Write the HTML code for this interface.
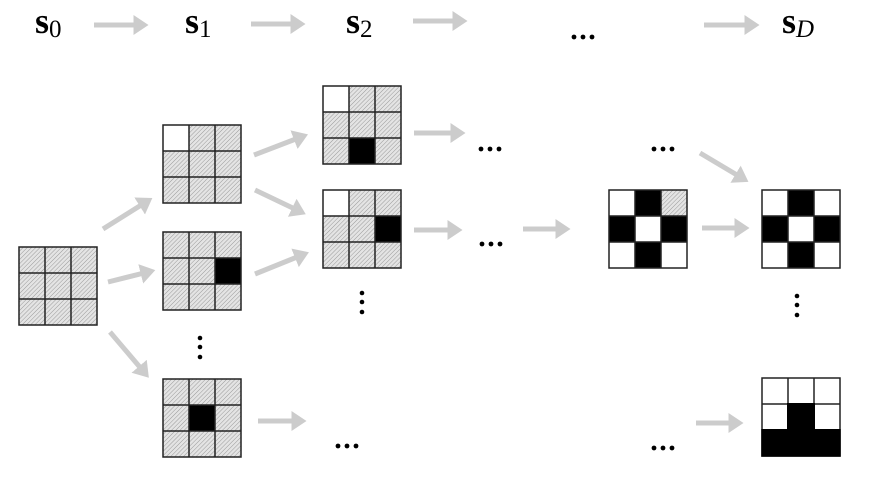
<!DOCTYPE html>
<html><head><meta charset="utf-8"><style>
html,body{margin:0;padding:0;background:#fff;width:874px;height:500px;overflow:hidden}
</style></head><body>
<svg width="874" height="500" viewBox="0 0 874 500" xmlns="http://www.w3.org/2000/svg">
<defs>
<pattern id="h" width="3" height="3" patternUnits="userSpaceOnUse" patternTransform="rotate(45)">
<rect width="3" height="3" fill="#e4e4e4"/><line x1="0" y1="0" x2="0" y2="3" stroke="#9a9a9a" stroke-width="1"/>
</pattern>
<g id="lines" fill="none" stroke="#222" stroke-width="1.5">
<rect x="0" y="0" width="78" height="78"/>
<line x1="26" y1="0" x2="26" y2="78"/><line x1="52" y1="0" x2="52" y2="78"/>
<line x1="0" y1="26" x2="78" y2="26"/><line x1="0" y1="52" x2="78" y2="52"/>
</g>
<rect id="bg" width="78" height="78" fill="url(#h)"/>
<g id="d3" fill="#000"><circle cx="-9" cy="0" r="2.4"/><circle cx="0" cy="0" r="2.4"/><circle cx="9" cy="0" r="2.4"/></g>
<marker id="a" markerWidth="4" markerHeight="4" refX="1.5" refY="2" orient="auto" markerUnits="strokeWidth">
<path d="M0,0 L3,2 L0,4 z" fill="#cccccc"/></marker>
</defs>
<g font-family="Liberation Serif, serif" font-size="36" font-weight="bold" fill="#000">
<text x="35" y="33">s<tspan font-size="25" font-weight="normal" dy="4">0</tspan></text>
<text x="185" y="33">s<tspan font-size="25" font-weight="normal" dy="4">1</tspan></text>
<text x="346" y="33">s<tspan font-size="25" font-weight="normal" dy="4">2</tspan></text>
<text x="782" y="33">s<tspan font-size="25" font-weight="normal" font-style="italic" dy="4">D</tspan></text>
</g>
<g stroke="#cccccc" stroke-width="5" marker-end="url(#a)">
<line x1="94" y1="25" x2="141" y2="25"/>
<line x1="251" y1="24" x2="298" y2="24"/>
<line x1="413" y1="21" x2="460" y2="21"/>
<line x1="704" y1="25" x2="752" y2="25"/>
<line x1="103" y1="229" x2="146" y2="202"/>
<line x1="108" y1="282" x2="148" y2="272"/>
<line x1="110" y1="332" x2="144" y2="372"/>
<line x1="254" y1="155" x2="301" y2="137"/>
<line x1="255" y1="190" x2="299" y2="211"/>
<line x1="255" y1="274" x2="302" y2="255"/>
<line x1="414" y1="133" x2="458" y2="133"/>
<line x1="414" y1="230" x2="455" y2="230"/>
<line x1="523" y1="229" x2="563" y2="229"/>
<line x1="702" y1="228" x2="742" y2="228"/>
<line x1="700" y1="153" x2="742" y2="178"/>
<line x1="696" y1="423" x2="736" y2="423"/>
<line x1="258" y1="421" x2="299" y2="421"/>
</g>
<g fill="#000">
<use href="#d3" x="583" y="37"/>
<use href="#d3" x="490" y="149"/>
<use href="#d3" x="491" y="244"/>
<use href="#d3" x="663" y="149"/>
<use href="#d3" x="663" y="448"/>
<use href="#d3" x="347" y="446"/>
<circle cx="362" cy="293" r="2.3"/><circle cx="362" cy="302" r="2.3"/><circle cx="362" cy="312" r="2.3"/>
<circle cx="200" cy="338" r="2.3"/><circle cx="200" cy="347" r="2.3"/><circle cx="200" cy="357" r="2.3"/>
<circle cx="797" cy="296" r="2.3"/><circle cx="797" cy="305" r="2.3"/><circle cx="797" cy="315" r="2.3"/>
</g>
<g transform="translate(19,247)"><use href="#bg"/><use href="#lines"/></g>
<g transform="translate(163,125)"><use href="#bg"/><rect width="26" height="26" fill="#fff"/><use href="#lines"/></g>
<g transform="translate(163,232)"><use href="#bg"/><rect x="52" y="26" width="26" height="26" fill="#000"/><use href="#lines"/></g>
<g transform="translate(163,379)"><use href="#bg"/><rect x="26" y="26" width="26" height="26" fill="#000"/><use href="#lines"/></g>
<g transform="translate(323,86)"><use href="#bg"/><rect width="26" height="26" fill="#fff"/><rect x="26" y="52" width="26" height="26" fill="#000"/><use href="#lines"/></g>
<g transform="translate(323,190)"><use href="#bg"/><rect width="26" height="26" fill="#fff"/><rect x="52" y="26" width="26" height="26" fill="#000"/><use href="#lines"/></g>
<g transform="translate(609,190)"><rect width="78" height="78" fill="#fff"/><rect x="52" width="26" height="26" fill="url(#h)"/>
<g fill="#000"><rect x="26" y="0" width="26" height="26"/><rect x="0" y="26" width="26" height="26"/><rect x="52" y="26" width="26" height="26"/><rect x="26" y="52" width="26" height="26"/></g>
<use href="#lines"/></g>
<g transform="translate(762,190)"><rect width="78" height="78" fill="#fff"/>
<g fill="#000"><rect x="26" y="0" width="26" height="26"/><rect x="0" y="26" width="26" height="26"/><rect x="52" y="26" width="26" height="26"/><rect x="26" y="52" width="26" height="26"/></g>
<use href="#lines"/></g>
<g transform="translate(762,378)"><rect width="78" height="78" fill="#fff"/>
<use href="#lines"/>
<g fill="#000"><rect x="25" y="25" width="28" height="28"/><rect x="-0.75" y="51" width="79.5" height="27.75"/></g>
</g>
</svg>
</body></html>
